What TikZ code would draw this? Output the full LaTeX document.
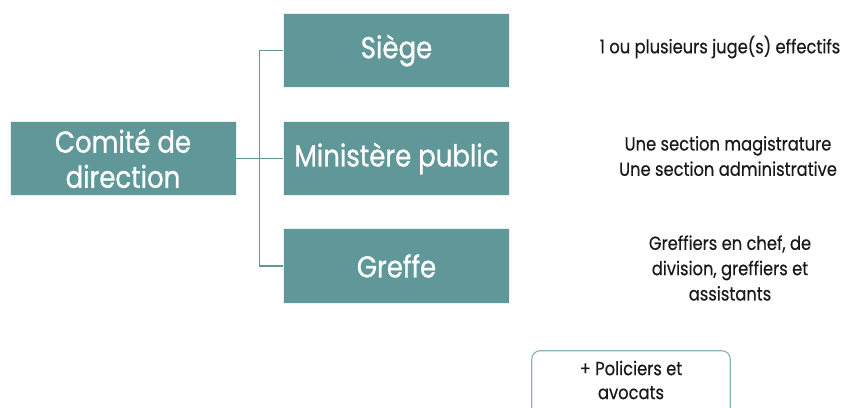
\documentclass[tikz,border=0pt]{standalone}
\usepackage{fontspec}
\setmainfont{Poppins}[FakeStretch=0.86, FakeBold=0.4]
\newfontfamily\unitfont{Poppins}[FakeStretch=0.86, FakeBold=0.9]
\usepackage{tikz}
\usetikzlibrary{calc}

\definecolor{teal1}{RGB}{96,151,153}
\definecolor{edge1}{RGB}{140,178,194}
\definecolor{ink1}{RGB}{25,25,25}

\tikzset{
  unit/.style = {fill=teal1, draw=white!85!teal1, line width=0.6pt, text=white,
                 minimum width=5.67cm, minimum height=1.87cm, align=center,
                 font=\unitfont\fontsize{21.5}{25}\selectfont, inner sep=0pt},
  note/.style = {text=ink1, align=center, font=\fontsize{13.5}{18}\selectfont},
  link/.style = {draw=teal1, line width=0.9pt}
}

\begin{document}
\begin{tikzpicture}
\clip (0, 0) rectangle (21.025, -10.175);
\fill[white] (0, 0) rectangle (21.025, -10.175);
\node[unit, minimum width=5.65cm] (comite) at (3.075, -3.9625) {Comité de\\direction};
\node[unit] (siege) at (9.9125, -1.2625) {Siège};
\node[unit] (minist) at (9.9125, -3.9625) {Ministère public};
\node[unit] (greffe) at (9.9125, -6.65) {Greffe};
\node[note] (juges) at (18.0, -1.175) {1 ou plusieurs juge(s) effectifs};
\node[note] (sections) at (18.2, -3.9) {Une section magistrature\\Une section administrative};
\node[note] (greffiers) at (18.25, -6.7) {Greffiers en chef, de\\division, greffiers et\\assistants};
\node[note, minimum width=4.95cm, minimum height=1.45cm,
      font=\fontsize{13.5}{17}\selectfont] (extra) at (15.775, -9.5) {+ Policiers et\\avocats};
% the frame runs on below the lower edge
\draw[edge1, line width=0.8pt, rounded corners=6pt]
  (extra.north west) rectangle ($(extra.south east) + (0, -0.5)$);
\draw[link] (comite.east) -- (minist.west);
\draw[link] (siege.west) -- ++(-0.575, 0) |- (greffe.west);
\end{tikzpicture}
\end{document}
